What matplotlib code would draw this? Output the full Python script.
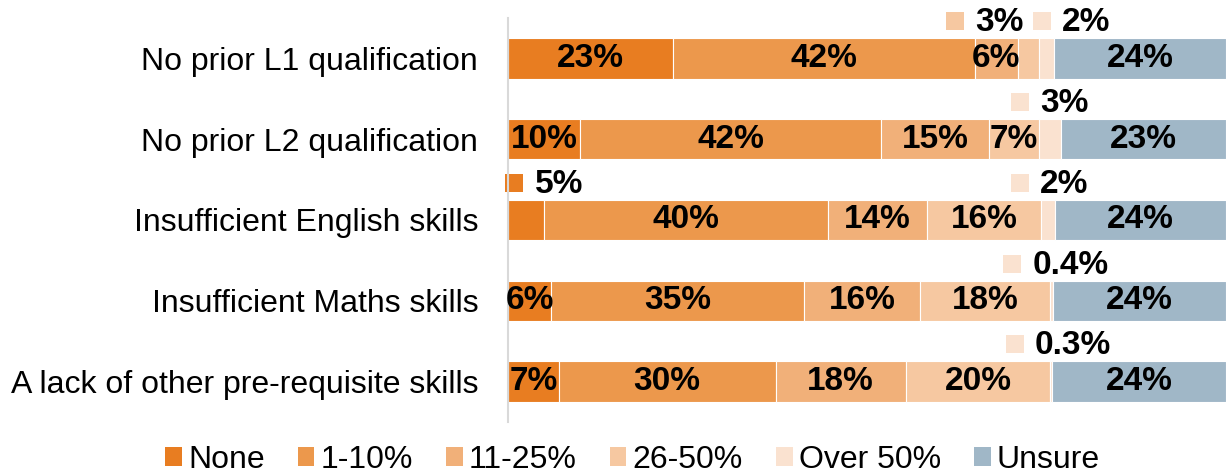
import numpy as np
import matplotlib
matplotlib.use("Agg")
import matplotlib.pyplot as plt
from matplotlib.patches import Patch

plt.rcParams['font.family'] = ['Liberation Sans', 'DejaVu Sans']

# Data
categories = ["No prior L1 qualification",
              "No prior L2 qualification",
              "Insufficient English skills",
              "Insufficient Maths skills",
              "A lack of other pre-requisite skills"]
series = ["None", "1-10%", "11-25%", "26-50%", "Over 50%", "Unsure"]
none_vals = [23, 10, 5, 6, 7]
low_vals = [42, 42, 40, 35, 30]
mid_vals = [6, 15, 14, 16, 18]
high_vals = [3, 7, 16, 18, 20]
over50_vals = [2, 3, 2, 0.4, 0.3]
unsure_vals = [24, 23, 24, 24, 24]

colors = ["#E87D21", "#EC984C", "#F1B079", "#F6C8A1", "#FAE2D0", "#A0B7C7"]

# small segments labelled above the bar: (row, series index, x shift of the key in %)
callouts = [(0, 3, -10.3), (0, 4, -0.6), (1, 4, -4.2), (2, 0, -1.6),
            (2, 4, -4.0), (3, 4, -5.4), (4, 4, -5.1)]

vals = np.array([none_vals, low_vals, mid_vals, high_vals, over50_vals, unsure_vals], dtype=float)
# bars are drawn as shares of 100 (rounded labels do not always sum to 100)
widths = vals / vals.sum(axis=0) * 100

fig = plt.figure(figsize=(12.26, 4.74), dpi=100)
ax = fig.add_axes([0.4144, 0.11, 0.5856, 0.852])

y = np.arange(len(categories))
fs = 23
bfs = 24
left = np.zeros(len(categories))
for i, name in enumerate(series):
    ax.barh(y, widths[i], left=left, height=0.5, color=colors[i],
            edgecolor='white', linewidth=0.8, label=name)
    for r in range(len(categories)):
        if any(c[0] == r and c[1] == i for c in callouts):
            continue
        ax.text(left[r] + widths[i][r] / 2, y[r], f"{vals[i][r]:g}%",
                ha='center', va='center', fontsize=bfs, fontweight='bold')
    left = left + widths[i]

# callout labels with a colour key
starts = np.vstack([np.zeros(len(categories)), np.cumsum(widths, axis=0)[:-1]])
for r, i, dx in callouts:
    xc = starts[i][r] + widths[i][r] / 2 + dx
    yc = y[r] - 0.46
    ax.plot(xc, yc, marker='s', markersize=13, color=colors[i], linestyle='none',
            markeredgewidth=0, clip_on=False)
    ax.text(xc + 2.8, yc + 0.02, f"{vals[i][r]:g}%", ha='left', va='center',
            fontsize=bfs, fontweight='bold')

ax.set_xlim(0, 100)
ax.set_ylim(len(categories) - 0.5, -0.5)
ax.set_yticks(y)
ax.set_yticklabels(categories, fontsize=fs)
ax.tick_params(axis='y', length=0, pad=21.5)
ax.set_xticks([])
for s in ['top', 'right', 'bottom']:
    ax.spines[s].set_visible(False)
ax.spines['left'].set_color('#D9D9D9')
ax.spines['left'].set_linewidth(1.5)

handles = [Patch(facecolor=c, edgecolor='none') for c in colors]
fig.legend(handles, series, loc='center', bbox_to_anchor=(0.516, 0.03), ncol=6,
           frameon=False, fontsize=fs, handlelength=0.52, handleheight=0.52,
           handletextpad=0.2, columnspacing=1.03, borderpad=0, borderaxespad=0)

fig.savefig("out.png", dpi=100)
